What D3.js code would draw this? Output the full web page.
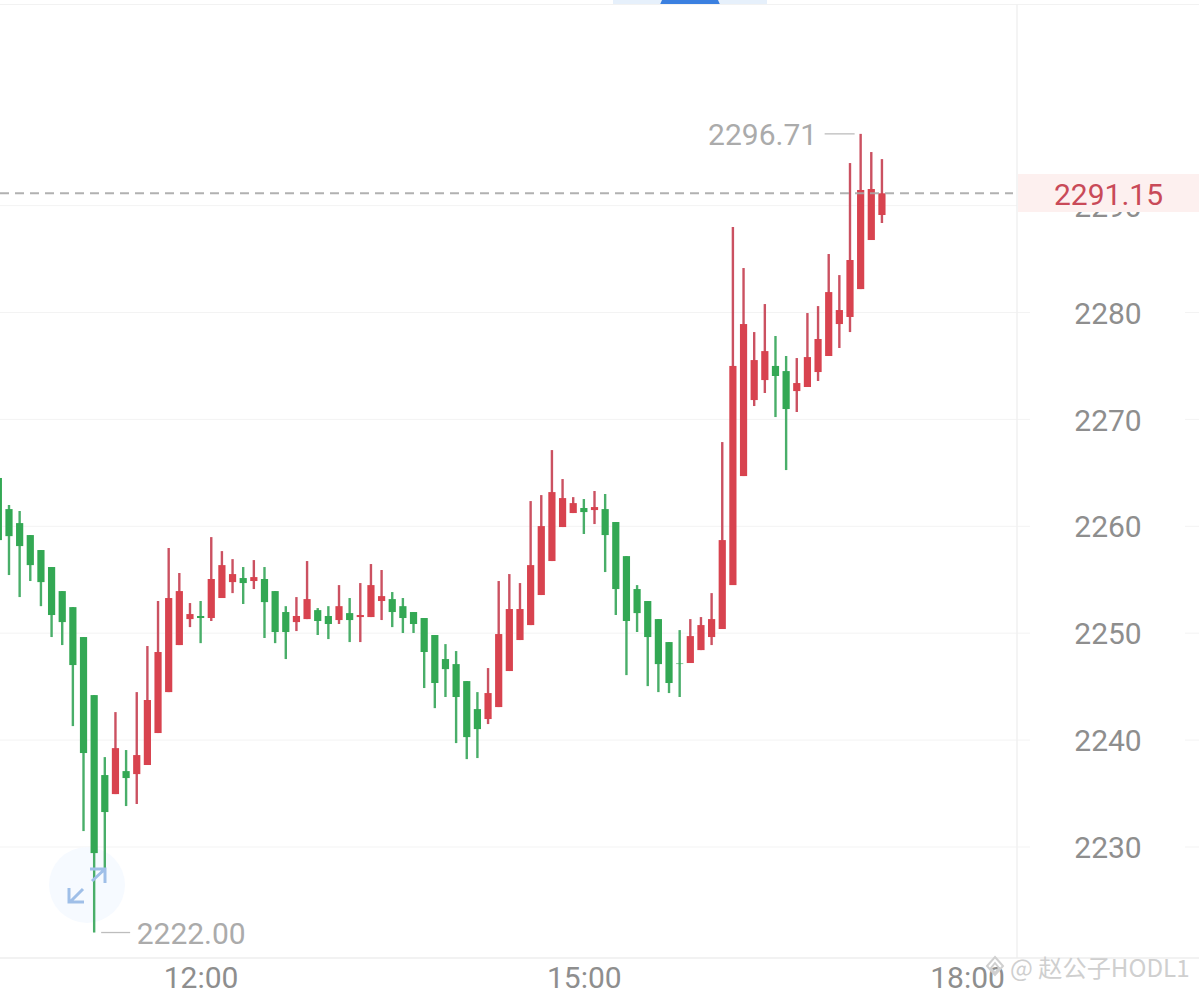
<!DOCTYPE html>
<html><head><meta charset="utf-8">
<script src="https://cdn.jsdelivr.net/npm/d3@7"></script>
<style>html,body{margin:0;padding:0;background:#fff;overflow:hidden}svg{display:block}text{font-family:Roboto,sans-serif}</style>
</head><body><svg id="c" width="1199" height="994"></svg>
<script>
const opens=[2264.52,2261.61,2260.30,2259.18,2257.78,2256.19,2253.94,2252.44,2249.64,2244.21,2236.73,2234.95,2237.10,2236.82,2237.67,2240.66,2244.49,2248.89,2251.32,2251.61,2251.42,2253.29,2254.78,2255.16,2254.88,2255.07,2253.94,2251.98,2251.04,2251.32,2252.16,2251.61,2251.23,2251.88,2251.51,2251.51,2253.01,2253.19,2252.53,2251.98,2251.42,2249.83,2247.58,2247.11,2245.52,2242.90,2241.97,2243.09,2246.46,2249.36,2250.76,2253.57,2256.75,2259.93,2261.24,2261.71,2261.52,2261.61,2260.40,2257.21,2254.13,2253.01,2251.32,2249.17,2247.21,2247.21,2248.42,2249.64,2250.39,2254.50,2264.70,2271.81,2273.68,2275.00,2274.52,2272.65,2273.03,2274.43,2275.93,2278.92,2279.58,2282.19,2286.78,2289.12];
const highs=[2264.52,2261.99,2261.43,2259.18,2257.78,2256.19,2253.94,2252.44,2249.64,2244.21,2238.41,2242.62,2239.07,2244.49,2248.80,2253.01,2257.97,2255.63,2252.82,2253.01,2258.99,2257.68,2256.93,2256.19,2256.84,2256.19,2253.94,2252.53,2253.38,2256.75,2252.35,2252.53,2254.50,2253.29,2254.69,2256.47,2255.91,2253.85,2253.29,2251.98,2251.42,2249.83,2248.98,2248.33,2245.52,2244.49,2246.74,2254.88,2255.53,2254.69,2262.36,2262.92,2267.13,2264.42,2262.73,2262.55,2263.30,2263.02,2260.40,2257.21,2254.50,2253.01,2251.32,2249.17,2250.29,2251.32,2251.51,2253.75,2267.88,2288.00,2284.16,2278.17,2280.79,2277.80,2275.93,2275.74,2279.95,2280.60,2285.47,2283.50,2293.98,2296.71,2295.01,2294.35];
const lows=[2257.21,2255.44,2253.38,2254.88,2252.53,2249.64,2248.89,2241.31,2231.49,2222.00,2228.03,2234.95,2233.83,2234.02,2237.67,2240.66,2244.49,2248.89,2250.57,2249.07,2251.14,2253.29,2253.75,2252.73,2254.13,2249.55,2249.07,2247.58,2250.20,2251.32,2249.83,2249.45,2250.86,2249.17,2249.17,2251.51,2251.23,2250.57,2250.02,2250.02,2244.87,2242.99,2244.03,2239.72,2238.22,2238.32,2241.50,2243.09,2246.46,2249.36,2250.76,2253.57,2256.75,2259.93,2261.24,2259.28,2260.21,2255.72,2251.70,2246.08,2250.11,2245.05,2244.49,2244.40,2244.03,2247.21,2248.42,2248.89,2250.39,2254.50,2264.70,2271.25,2272.47,2270.22,2265.26,2270.69,2273.03,2273.59,2275.93,2276.68,2278.17,2282.19,2286.78,2288.37];
const closes=[2258.71,2259.08,2258.15,2256.37,2254.78,2251.70,2251.04,2247.02,2238.79,2229.43,2233.27,2239.25,2236.45,2238.60,2243.75,2248.24,2253.29,2253.94,2251.79,2251.42,2255.07,2256.37,2255.53,2254.69,2255.25,2252.91,2250.11,2250.11,2251.61,2253.19,2251.14,2250.86,2252.53,2251.23,2251.70,2254.50,2253.47,2251.98,2251.42,2250.86,2248.24,2245.34,2246.64,2244.03,2240.28,2241.03,2244.40,2249.92,2252.26,2252.26,2256.37,2260.02,2263.20,2262.64,2262.17,2261.33,2261.80,2259.18,2254.13,2251.14,2251.88,2249.64,2247.11,2245.34,2247.11,2249.73,2250.76,2251.32,2258.71,2275.00,2278.92,2275.55,2276.39,2274.06,2270.97,2273.40,2275.83,2277.52,2281.91,2280.23,2284.91,2291.46,2291.55,2291.15];

const priceTicks=[2230,2240,2250,2260,2270,2280,2290];
const timeTickPositions=[19,55,91];
const timeTickLabels=["12:00","15:00","18:00"];
const lastPrice=2291.15, maxPrice=2296.71, minPrice=2222.00;
const watermark="@ 赵公子HODL1";

const RED="#d8434f",GREEN="#33a854",REDW="#cb5161",GREENW="#49ae69";
const svg=d3.select("#c");
const x=d3.scaleLinear().domain([0,91]).range([-1.65,967.1]);
const y=d3.scaleLinear().domain([2230,2280]).range([847,312.5]);
const W=1199,H=994,axisX=1017,bottomY=958;

svg.append("rect").attr("x",613).attr("y",0).attr("width",154).attr("height",4.5).attr("fill","#e6f0fb");
svg.append("path").attr("d","M660,4.5L662,0L718,0L720,4.5Z").attr("fill","#3b80e0");
svg.append("line").attr("x1",0).attr("x2",W).attr("y1",4.5).attr("y2",4.5).attr("stroke","#f2f2f2");

const grid=svg.append("g");
priceTicks.forEach(t=>{
  grid.append("line").attr("x1",0).attr("x2",t===2290?axisX:1030).attr("y1",y(t)).attr("y2",y(t)).attr("stroke","#f3f3f3").attr("stroke-width",1);
  if(t!==2290) grid.append("line").attr("x1",1185).attr("x2",W).attr("y1",y(t)).attr("y2",y(t)).attr("stroke","#f3f3f3").attr("stroke-width",1);
});
svg.append("line").attr("x1",axisX).attr("x2",axisX).attr("y1",4).attr("y2",bottomY).attr("stroke","#f1f1f1").attr("stroke-width",1.5);
svg.append("line").attr("x1",0).attr("x2",W).attr("y1",bottomY).attr("y2",bottomY).attr("stroke","#eeeeee").attr("stroke-width",1.5);

svg.append("circle").attr("cx",87).attr("cy",885).attr("r",38).attr("fill","#f6faff");

const yAxis=d3.axisRight(y).tickValues(priceTicks).tickSize(0).tickPadding(0).tickFormat(d3.format("d"));
const gy=svg.append("g").attr("transform","translate(1108,1)").call(yAxis);
gy.select(".domain").remove();
gy.selectAll("text").attr("text-anchor","middle").attr("x",0).attr("fill","#8e8e8e").style("font-size","30px");

const xAxis=d3.axisBottom(x).tickValues(timeTickPositions).tickSize(0).tickPadding(0).tickFormat((d,i)=>timeTickLabels[i]);
const gx=svg.append("g").attr("transform","translate(0,963)").call(xAxis);
gx.select(".domain").remove();
gx.selectAll("text").attr("fill","#8e8e8e").style("font-size","30px").attr("dy","0").attr("y",25);

const idx=d3.range(opens.length);
const up=i=>closes[i]>opens[i];
svg.append("g").selectAll("line").data(idx).join("line")
  .attr("x1",i=>x(i)).attr("x2",i=>x(i)).attr("y1",i=>y(highs[i])).attr("y2",i=>y(lows[i]))
  .attr("stroke",i=>up(i)?REDW:GREENW).attr("stroke-width",2.4);
svg.append("g").selectAll("rect").data(idx).join("rect")
  .attr("x",i=>x(i)-3.6).attr("width",7.2)
  .attr("y",i=>y(Math.max(opens[i],closes[i])))
  .attr("height",i=>Math.max(1,Math.abs(y(opens[i])-y(closes[i]))))
  .attr("fill",i=>up(i)?RED:GREEN)
  .attr("opacity",i=>Math.abs(opens[i]-closes[i])<0.15?0.55:1);

svg.append("path").attr("d","M90,869H105V883M105,869L92,881M69,888V902H84M70,902L83,889")
  .attr("fill","none").attr("stroke","#9fbfe8").attr("stroke-width",3);

svg.append("line").attr("x1",0).attr("x2",1013).attr("y1",y(lastPrice)).attr("y2",y(lastPrice))
  .attr("stroke","#a8a8a8").attr("stroke-opacity",.9).attr("stroke-width",1.9).attr("stroke-dasharray","9 6");
svg.append("rect").attr("x",1018).attr("y",174).attr("width",181).attr("height",38).attr("fill","#fdf0ef");
svg.append("text").attr("x",1108.5).attr("y",y(lastPrice)+1.5).attr("dy",".35em").attr("text-anchor","middle")
  .attr("fill","#c94a58").style("font-size","30px").text(lastPrice.toFixed(2));

const iMax=highs.indexOf(maxPrice), iMin=lows.indexOf(minPrice);
svg.append("line").attr("x1",x(iMax)-36).attr("x2",x(iMax)-6).attr("y1",y(maxPrice)).attr("y2",y(maxPrice)).attr("stroke","#bdbdbd").attr("stroke-width",1.3);
svg.append("text").attr("x",x(iMax)-43.5).attr("y",y(maxPrice)+.5).attr("dy",".35em").attr("text-anchor","end")
  .attr("fill","#ababab").style("font-size","30px").text(maxPrice.toFixed(2));
svg.append("line").attr("x1",x(iMin)+7).attr("x2",x(iMin)+36).attr("y1",y(minPrice)).attr("y2",y(minPrice)).attr("stroke","#bdbdbd").attr("stroke-width",1.3);
svg.append("text").attr("x",x(iMin)+42.5).attr("y",y(minPrice)+.5).attr("dy",".35em").attr("text-anchor","start")
  .attr("fill","#ababab").style("font-size","30px").text(minPrice.toFixed(2));

svg.append("path").attr("d","M995,957L1003,966L995,975L987,966Z M995,963L999,968L995,973L991,968Z")
  .attr("fill","none").attr("stroke","#d0d0d0").attr("stroke-width",2);
svg.append("text").attr("x",1010).attr("y",977).attr("fill","#cfcfcf")
  .style("font-family","'Noto Sans CJK SC',sans-serif").style("font-size","24.2px").text(watermark);
</script></body></html>
